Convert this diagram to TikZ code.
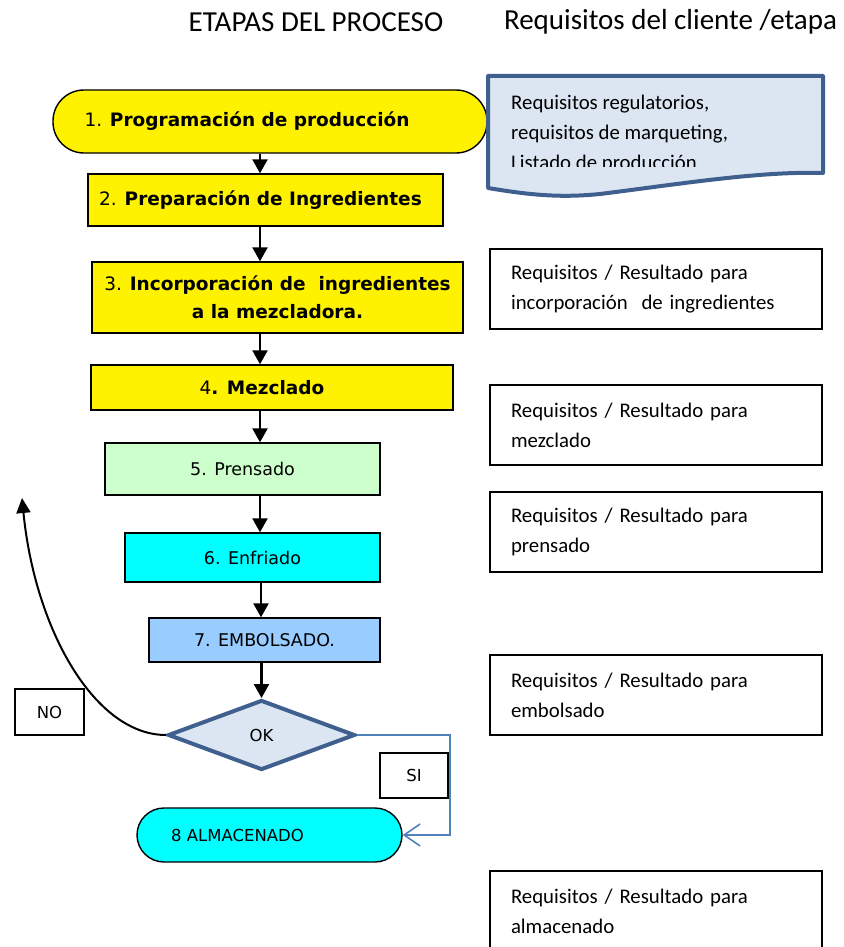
\documentclass[tikz,border=0pt]{standalone}
\usepackage{fontspec}
\setmainfont{Carlito}
\newfontfamily\tah{DejaVu Sans}
\usetikzlibrary{arrows.meta,shapes.geometric}
\definecolor{docfill}{HTML}{DCE6F2}
\definecolor{docline}{HTML}{3F5F8E}
\definecolor{siline}{HTML}{4F81BD}
\definecolor{pgreen}{HTML}{CCFFCC}
\definecolor{pcyan}{HTML}{00FFFF}
\definecolor{pblue}{HTML}{99CCFF}
\begin{document}
\begin{tikzpicture}[x=1pt,y=-1pt,
  box/.style={draw=black, line width=1.4, inner sep=0pt, align=center, font=\tah\fontsize{17.5}{28}\selectfont},
  ybox/.style={box, fill=yellow, font=\tah\fontsize{18.5}{28}\selectfont},
  req/.style={draw=black, line width=1.4, minimum width=332, text width=290, inner xsep=21, align=left, font=\fontsize{20.8}{30}\selectfont},
  lbl/.style={draw=black, line width=1.4, inner sep=0pt, font=\tah\fontsize{16.5}{18}\selectfont},
  arr/.style={line width=2.5, -{Triangle[width=15,length=14]}},
  hdr/.style={font=\fontsize{29}{32}\selectfont}
]
\useasboundingbox (0,0) rectangle (843,947);
\clip (0,0) rectangle (843,947);

% headers
\node[hdr] (h1) at (316,22) {ETAPAS DEL PROCESO};
\node[hdr] (h2) at (670.5,22) {Requisitos del cliente /etapa};

% process boxes
\node[ybox, rounded corners=31, minimum width=434, minimum height=63] (b1) at (270,121.5) {\hspace*{-46pt}1. \textbf{Programación de producción}};
\node[ybox, minimum width=355, minimum height=52] (b2) at (265.5,200) {\hspace*{-10pt}2. \textbf{Preparación de Ingredientes}};
\node[ybox, minimum width=371, minimum height=71] (b3) at (277.5,297.5) {3. \textbf{Incorporación de\ \ ingredientes}\\\textbf{a la mezcladora.}};
\node[ybox, minimum width=362, minimum height=45] (b4) at (272,387.5) {\hspace*{-20pt}4\textbf{. Mezclado}};
\node[box, fill=pgreen, minimum width=275, minimum height=52] (b5) at (242.5,469) {5. Prensado};
\node[box, fill=pcyan, minimum width=255, minimum height=49] (b6) at (252.5,557.5) {6. Enfriado};
\node[box, fill=pblue, minimum width=231, minimum height=44] (b7) at (264.5,640) {7. EMBOLSADO.};
\node[diamond, draw=docline, line width=4, fill=docfill, minimum width=187, minimum height=70, inner sep=0pt, font=\tah\fontsize{16.5}{18}\selectfont] (ok) at (261.5,735) {OK};
\node[box, fill=pcyan, rounded corners=27, minimum width=265, minimum height=54, font=\tah\fontsize{16.5}{18}\selectfont] (b8) at (269.5,835) {\hspace*{-64pt}8 ALMACENADO};
\node[lbl, minimum width=69, minimum height=46] (no) at (49.5,712) {NO};
\node[lbl, minimum width=68, minimum height=45] (si) at (414,775.5) {SI};

% document shape
\draw[draw=docline, line width=4, fill=docfill, line join=round]
  (488,76) -- (823,76) -- (823,173)
  .. controls (760,171) and (680,184) .. (600,194)
  .. controls (560,198) and (530,195) .. (488,188) -- cycle;
\coordinate (docpos) at (511,95);
\begin{scope}
\clip (500,80) rectangle (815,166);
\node[anchor=north west, inner sep=0pt, align=left, font=\fontsize{20.8}{30}\selectfont] (doctext) at (docpos)
  {Requisitos regulatorios,\\requisitos de marqueting,\\Listado de producción};
\end{scope}

% requirement boxes
\node[req, minimum height=80] (r1) at (656,289) {Requisitos / Resultado para\\incorporación\ \ de ingredientes};
\node[req, minimum height=80] (r2) at (656,425) {Requisitos / Resultado para\\mezclado};
\node[req, minimum height=80] (r3) at (656,532) {Requisitos / Resultado para\\prensado};
\node[req, minimum height=80] (r4) at (656,695) {Requisitos / Resultado para\\embolsado};
\node[req, minimum height=81] (r5) at (656,911.5) {Requisitos / Resultado para\\almacenado};

% arrows
\coordinate (ax) at (260,0);
\coordinate (ax2) at (261,0);
\draw[arr] (b1.south -| ax) -- (b2.north -| ax);
\draw[arr] (b2.south -| ax) -- (b3.north -| ax);
\draw[arr] (b3.south -| ax) -- (b4.north -| ax);
\draw[arr] (b4.south -| ax) -- (b5.north -| ax);
\draw[arr] (b5.south -| ax) -- (b6.north -| ax);
\draw[arr] (b6.south -| ax2) -- (b7.north -| ax2);
\draw[arr] (b7.south -| ok.north) -- (ok.north);

% NO loop
\coordinate (noend) at (22,498);
\draw[line width=2, -{Triangle[width=14,length=15]}] (ok.west) .. controls (95,735) and (35,630) .. (noend);

% SI connector
\coordinate (sicorner) at (450,735);
\draw[siline, line width=1.6, -{Straight Barb[length=16,width=22,line width=1.6]}]
  (ok.east) -- (sicorner) -- (sicorner |- b8.east) -- (b8.east);
\end{tikzpicture}
\end{document}
